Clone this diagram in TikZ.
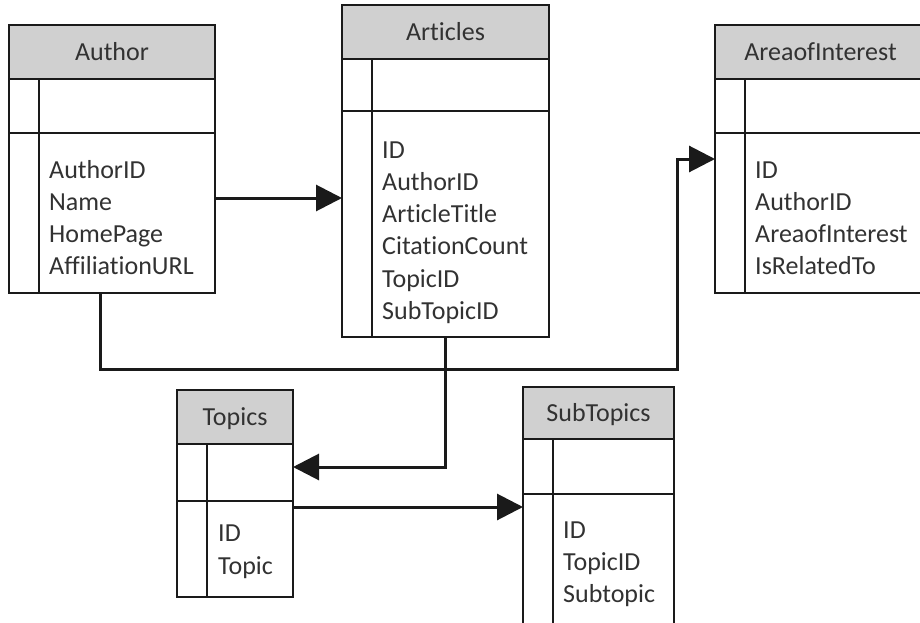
\documentclass[tikz,border=0pt]{standalone}
\usepackage{fontspec}
\setmainfont[Ligatures=NoCommon]{Carlito}
\usetikzlibrary{arrows.meta}

\definecolor{headgray}{RGB}{208,208,208}
\definecolor{inkline}{RGB}{26,26,26}
\definecolor{inktext}{RGB}{50,50,50}

\tikzset{
  rule/.style={draw=inkline, line width=1.6pt},
  headfill/.style={fill=headgray},
  holder/.style={draw=none, inner sep=0pt, outer sep=0pt, anchor=north west},
  tabletitle/.style={font=\fontsize{26}{32}\selectfont, text=inktext, inner sep=0pt, anchor=base},
  fieldtext/.style={font=\fontsize{26}{32}\selectfont, text=inktext, inner sep=0pt, anchor=base west},
  link/.style={draw=inkline, line width=3pt, -{Triangle[length=26pt,width=26pt]}},
}

% #1 name, #2 left, #3 top, #4 right, #5 bottom,
% #6 header bottom, #7 key-row divider, #8 key column x, #9 title
\newcommand\dbtable[9]{%
  \node[holder, minimum width={#4-#2}, minimum height={#5-#3}] (#1) at (#2,#3) {};
  \fill[headfill] (#1.north west) rectangle (#4,#6);
  \draw[rule] (#2,#6) -- (#4,#6);
  \draw[rule] (#2,#7) -- (#4,#7);
  \draw[rule] (#8,#6) -- (#8,#5);
  \draw[rule] (#1.north west) rectangle (#1.south east);
  \node[tabletitle] (#1-title) at ({(#2+#4)/2},{(#3+#6)/2+8.5}) {#9};
}

% #1 table name, #2 text x, #3 first baseline, #4 line step, #5 field list
\newcommand\dbfields[5]{%
  \foreach \fld [count=\k] in {#5}
    \node[fieldtext] (#1-f\k) at (#2,{#3+(\k-1)*#4}) {\fld};
}

\begin{document}
\begin{tikzpicture}[x=1pt, y=-1pt]
  \useasboundingbox (0,0) rectangle (920,623);
  \fill[white] (0,0) rectangle (920,623);
  \clip (0,0) rectangle (920,623);

  % tables
  \dbtable{author}{9}{25}{215}{293}{79}{133}{39}{Author}
  \dbfields{author}{49}{178}{32}{AuthorID,Name,HomePage,AffiliationURL}

  \dbtable{articles}{342}{5}{549}{337}{59}{111}{372}{Articles}
  \dbfields{articles}{382}{158}{32.3}{ID,AuthorID,ArticleTitle,CitationCount,TopicID,SubTopicID}

  \dbtable{interest}{715}{25}{926}{293}{79}{133}{745}{AreaofInterest}
  \dbfields{interest}{755}{178}{32}{ID,AuthorID,AreaofInterest,IsRelatedTo}

  \dbtable{topics}{177}{390}{293}{597}{444}{501}{207}{Topics}
  \dbfields{topics}{218}{541}{33}{ID,Topic}

  \dbtable{subtopics}{523}{387}{674}{640}{439}{494}{553}{SubTopics}
  \dbfields{subtopics}{563}{538}{32}{ID,TopicID,Subtopic}

  % relations
  \coordinate (authorbend) at (677,369);
  \draw[link] (author.east |- 0,198) -- (articles.west |- 0,198);
  \draw[link] (author.south -| 100,0) |- (authorbend) |- (interest.west |- 0,159);
  \draw[link] (articles.south) |- (topics.east |- 0,467);
  \draw[link] (topics.east |- 0,507) -- (subtopics.west |- 0,507);
\end{tikzpicture}
\end{document}
